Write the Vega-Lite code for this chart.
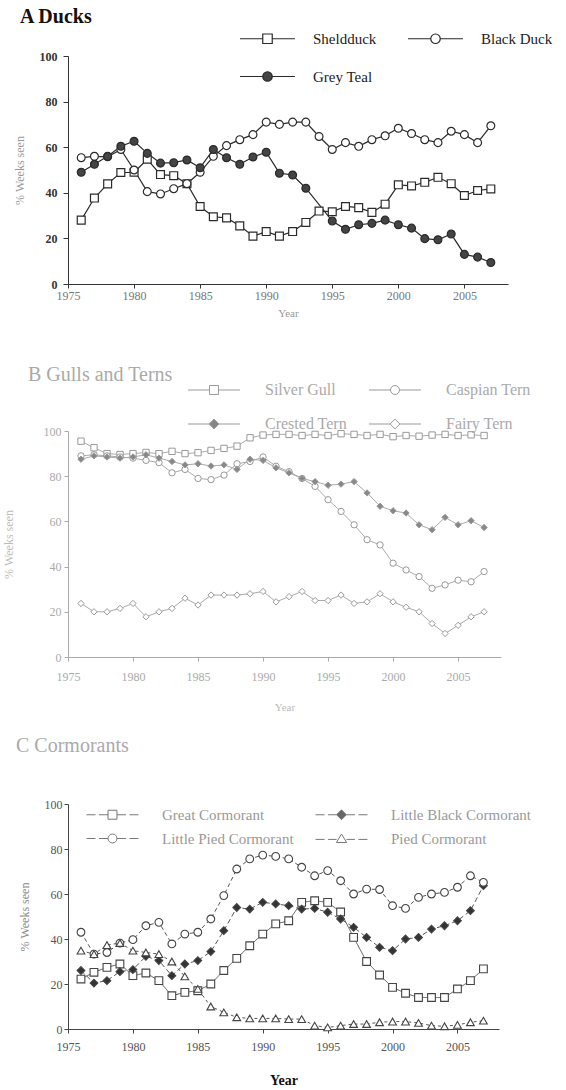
{
  "$schema": "https://vega.github.io/schema/vega-lite/v6.json",
  "padding": {"left": 2, "top": 7, "right": 0, "bottom": 0},
  "background": "white",
  "config": {
    "view": {"stroke": null},
    "font": "Liberation Serif",
    "axis": {"grid": false, "labelFont": "Liberation Serif", "titleFont": "Liberation Serif", "labelFlush": false}
  },
  "datasets": {
    "ducks": [
      {"year":1976,"species":"Sheldduck","value":28},{"year":1977,"species":"Sheldduck","value":37.7},{"year":1978,"species":"Sheldduck","value":43.9},{"year":1979,"species":"Sheldduck","value":48.9},{"year":1980,"species":"Sheldduck","value":49},{"year":1981,"species":"Sheldduck","value":54.7},{"year":1982,"species":"Sheldduck","value":48},{"year":1983,"species":"Sheldduck","value":47.5},{"year":1984,"species":"Sheldduck","value":44},{"year":1985,"species":"Sheldduck","value":34},{"year":1986,"species":"Sheldduck","value":29.5},{"year":1987,"species":"Sheldduck","value":29},{"year":1988,"species":"Sheldduck","value":25.5},{"year":1989,"species":"Sheldduck","value":21},{"year":1990,"species":"Sheldduck","value":23},{"year":1991,"species":"Sheldduck","value":21},{"year":1992,"species":"Sheldduck","value":23},{"year":1993,"species":"Sheldduck","value":27},{"year":1994,"species":"Sheldduck","value":32},{"year":1995,"species":"Sheldduck","value":31.7},{"year":1996,"species":"Sheldduck","value":34},{"year":1997,"species":"Sheldduck","value":33.5},{"year":1998,"species":"Sheldduck","value":31.4},{"year":1999,"species":"Sheldduck","value":35},{"year":2000,"species":"Sheldduck","value":43.5},{"year":2001,"species":"Sheldduck","value":43},{"year":2002,"species":"Sheldduck","value":44.6},{"year":2003,"species":"Sheldduck","value":46.8},{"year":2004,"species":"Sheldduck","value":44},{"year":2005,"species":"Sheldduck","value":38.8},{"year":2006,"species":"Sheldduck","value":41},{"year":2007,"species":"Sheldduck","value":41.7},
      {"year":1976,"species":"Black Duck","value":55.4},{"year":1977,"species":"Black Duck","value":56},{"year":1978,"species":"Black Duck","value":55.8},{"year":1979,"species":"Black Duck","value":59},{"year":1980,"species":"Black Duck","value":50},{"year":1981,"species":"Black Duck","value":40.5},{"year":1982,"species":"Black Duck","value":39.5},{"year":1983,"species":"Black Duck","value":41.8},{"year":1984,"species":"Black Duck","value":44},{"year":1985,"species":"Black Duck","value":49},{"year":1986,"species":"Black Duck","value":56},{"year":1987,"species":"Black Duck","value":60.7},{"year":1988,"species":"Black Duck","value":63.3},{"year":1989,"species":"Black Duck","value":65.5},{"year":1990,"species":"Black Duck","value":71},{"year":1991,"species":"Black Duck","value":70},{"year":1992,"species":"Black Duck","value":71},{"year":1993,"species":"Black Duck","value":71},{"year":1994,"species":"Black Duck","value":64.7},{"year":1995,"species":"Black Duck","value":59},{"year":1996,"species":"Black Duck","value":62},{"year":1997,"species":"Black Duck","value":60.4},{"year":1998,"species":"Black Duck","value":63.3},{"year":1999,"species":"Black Duck","value":65},{"year":2000,"species":"Black Duck","value":68.3},{"year":2001,"species":"Black Duck","value":66},{"year":2002,"species":"Black Duck","value":63.3},{"year":2003,"species":"Black Duck","value":62},{"year":2004,"species":"Black Duck","value":67},{"year":2005,"species":"Black Duck","value":65.5},{"year":2006,"species":"Black Duck","value":62},{"year":2007,"species":"Black Duck","value":69.4},
      {"year":1976,"species":"Grey Teal","value":49},{"year":1977,"species":"Grey Teal","value":52.5},{"year":1978,"species":"Grey Teal","value":56},{"year":1979,"species":"Grey Teal","value":60.4},{"year":1980,"species":"Grey Teal","value":62.6},{"year":1981,"species":"Grey Teal","value":57.3},{"year":1982,"species":"Grey Teal","value":53},{"year":1983,"species":"Grey Teal","value":53.2},{"year":1984,"species":"Grey Teal","value":54.4},{"year":1985,"species":"Grey Teal","value":51},{"year":1986,"species":"Grey Teal","value":59},{"year":1987,"species":"Grey Teal","value":55.4},{"year":1988,"species":"Grey Teal","value":52.5},{"year":1989,"species":"Grey Teal","value":55.7},{"year":1990,"species":"Grey Teal","value":57.8},{"year":1991,"species":"Grey Teal","value":48.6},{"year":1992,"species":"Grey Teal","value":47.8},{"year":1993,"species":"Grey Teal","value":42},{"year":1995,"species":"Grey Teal","value":27.6},{"year":1996,"species":"Grey Teal","value":24},{"year":1997,"species":"Grey Teal","value":26},{"year":1998,"species":"Grey Teal","value":26.6},{"year":1999,"species":"Grey Teal","value":28},{"year":2000,"species":"Grey Teal","value":26},{"year":2001,"species":"Grey Teal","value":24.5},{"year":2002,"species":"Grey Teal","value":19.9},{"year":2003,"species":"Grey Teal","value":19.4},{"year":2004,"species":"Grey Teal","value":21.9},{"year":2005,"species":"Grey Teal","value":13},{"year":2006,"species":"Grey Teal","value":11.8},{"year":2007,"species":"Grey Teal","value":9.4}
    ],
    "gulls": [
      {"year":1976,"species":"Silver Gull","value":95.5},{"year":1977,"species":"Silver Gull","value":92.6},{"year":1978,"species":"Silver Gull","value":90},{"year":1979,"species":"Silver Gull","value":89.6},{"year":1980,"species":"Silver Gull","value":90},{"year":1981,"species":"Silver Gull","value":90.5},{"year":1982,"species":"Silver Gull","value":90},{"year":1983,"species":"Silver Gull","value":91},{"year":1984,"species":"Silver Gull","value":90},{"year":1985,"species":"Silver Gull","value":90.4},{"year":1986,"species":"Silver Gull","value":91.4},{"year":1987,"species":"Silver Gull","value":92.3},{"year":1988,"species":"Silver Gull","value":93.3},{"year":1989,"species":"Silver Gull","value":97},{"year":1990,"species":"Silver Gull","value":98.2},{"year":1991,"species":"Silver Gull","value":98.5},{"year":1992,"species":"Silver Gull","value":98.5},{"year":1993,"species":"Silver Gull","value":98},{"year":1994,"species":"Silver Gull","value":98.5},{"year":1995,"species":"Silver Gull","value":98},{"year":1996,"species":"Silver Gull","value":98.8},{"year":1997,"species":"Silver Gull","value":98.5},{"year":1998,"species":"Silver Gull","value":98},{"year":1999,"species":"Silver Gull","value":98.5},{"year":2000,"species":"Silver Gull","value":97.5},{"year":2001,"species":"Silver Gull","value":98},{"year":2002,"species":"Silver Gull","value":97.7},{"year":2003,"species":"Silver Gull","value":98.2},{"year":2004,"species":"Silver Gull","value":98.5},{"year":2005,"species":"Silver Gull","value":98},{"year":2006,"species":"Silver Gull","value":98.3},{"year":2007,"species":"Silver Gull","value":98},
      {"year":1976,"species":"Caspian Tern","value":89},{"year":1977,"species":"Caspian Tern","value":89.5},{"year":1978,"species":"Caspian Tern","value":89},{"year":1979,"species":"Caspian Tern","value":88.5},{"year":1980,"species":"Caspian Tern","value":88},{"year":1981,"species":"Caspian Tern","value":87},{"year":1982,"species":"Caspian Tern","value":86},{"year":1983,"species":"Caspian Tern","value":81.5},{"year":1984,"species":"Caspian Tern","value":83},{"year":1985,"species":"Caspian Tern","value":79},{"year":1986,"species":"Caspian Tern","value":78.5},{"year":1987,"species":"Caspian Tern","value":80.5},{"year":1988,"species":"Caspian Tern","value":85.5},{"year":1989,"species":"Caspian Tern","value":86.5},{"year":1990,"species":"Caspian Tern","value":88.5},{"year":1991,"species":"Caspian Tern","value":84.4},{"year":1992,"species":"Caspian Tern","value":82},{"year":1993,"species":"Caspian Tern","value":79},{"year":1994,"species":"Caspian Tern","value":75.5},{"year":1995,"species":"Caspian Tern","value":69.6},{"year":1996,"species":"Caspian Tern","value":64.4},{"year":1997,"species":"Caspian Tern","value":58.5},{"year":1998,"species":"Caspian Tern","value":51.9},{"year":1999,"species":"Caspian Tern","value":49.6},{"year":2000,"species":"Caspian Tern","value":41.5},{"year":2001,"species":"Caspian Tern","value":38.5},{"year":2002,"species":"Caspian Tern","value":35.6},{"year":2003,"species":"Caspian Tern","value":30.4},{"year":2004,"species":"Caspian Tern","value":31.9},{"year":2005,"species":"Caspian Tern","value":34},{"year":2006,"species":"Caspian Tern","value":33.3},{"year":2007,"species":"Caspian Tern","value":37.8},
      {"year":1976,"species":"Crested Tern","value":87.5},{"year":1977,"species":"Crested Tern","value":89},{"year":1978,"species":"Crested Tern","value":88.5},{"year":1979,"species":"Crested Tern","value":88},{"year":1980,"species":"Crested Tern","value":88.5},{"year":1981,"species":"Crested Tern","value":89.5},{"year":1982,"species":"Crested Tern","value":88},{"year":1983,"species":"Crested Tern","value":86.5},{"year":1984,"species":"Crested Tern","value":85},{"year":1985,"species":"Crested Tern","value":85.5},{"year":1986,"species":"Crested Tern","value":84.5},{"year":1987,"species":"Crested Tern","value":85},{"year":1988,"species":"Crested Tern","value":83},{"year":1989,"species":"Crested Tern","value":87.5},{"year":1990,"species":"Crested Tern","value":87},{"year":1991,"species":"Crested Tern","value":83.7},{"year":1992,"species":"Crested Tern","value":81.5},{"year":1993,"species":"Crested Tern","value":79},{"year":1994,"species":"Crested Tern","value":77.6},{"year":1995,"species":"Crested Tern","value":76},{"year":1996,"species":"Crested Tern","value":76.5},{"year":1997,"species":"Crested Tern","value":77.6},{"year":1998,"species":"Crested Tern","value":72.6},{"year":1999,"species":"Crested Tern","value":66.7},{"year":2000,"species":"Crested Tern","value":64.7},{"year":2001,"species":"Crested Tern","value":63.7},{"year":2002,"species":"Crested Tern","value":58.5},{"year":2003,"species":"Crested Tern","value":56.3},{"year":2004,"species":"Crested Tern","value":61.8},{"year":2005,"species":"Crested Tern","value":58.5},{"year":2006,"species":"Crested Tern","value":60.3},{"year":2007,"species":"Crested Tern","value":57.3},
      {"year":1976,"species":"Fairy Tern","value":23.7},{"year":1977,"species":"Fairy Tern","value":20},{"year":1978,"species":"Fairy Tern","value":20},{"year":1979,"species":"Fairy Tern","value":21.5},{"year":1980,"species":"Fairy Tern","value":23.7},{"year":1981,"species":"Fairy Tern","value":17.8},{"year":1982,"species":"Fairy Tern","value":20},{"year":1983,"species":"Fairy Tern","value":21.5},{"year":1984,"species":"Fairy Tern","value":26},{"year":1985,"species":"Fairy Tern","value":23},{"year":1986,"species":"Fairy Tern","value":27.4},{"year":1987,"species":"Fairy Tern","value":27.4},{"year":1988,"species":"Fairy Tern","value":27.4},{"year":1989,"species":"Fairy Tern","value":28},{"year":1990,"species":"Fairy Tern","value":29},{"year":1991,"species":"Fairy Tern","value":24.4},{"year":1992,"species":"Fairy Tern","value":26.7},{"year":1993,"species":"Fairy Tern","value":29},{"year":1994,"species":"Fairy Tern","value":25},{"year":1995,"species":"Fairy Tern","value":25},{"year":1996,"species":"Fairy Tern","value":27.4},{"year":1997,"species":"Fairy Tern","value":23.7},{"year":1998,"species":"Fairy Tern","value":24.4},{"year":1999,"species":"Fairy Tern","value":28},{"year":2000,"species":"Fairy Tern","value":24.4},{"year":2001,"species":"Fairy Tern","value":22},{"year":2002,"species":"Fairy Tern","value":20},{"year":2003,"species":"Fairy Tern","value":14.8},{"year":2004,"species":"Fairy Tern","value":10.4},{"year":2005,"species":"Fairy Tern","value":14},{"year":2006,"species":"Fairy Tern","value":17.8},{"year":2007,"species":"Fairy Tern","value":20}
    ],
    "corm": [
      {"year":1976,"species":"Great Cormorant","value":22.2},{"year":1977,"species":"Great Cormorant","value":25.2},{"year":1978,"species":"Great Cormorant","value":27.4},{"year":1979,"species":"Great Cormorant","value":28.9},{"year":1980,"species":"Great Cormorant","value":23.7},{"year":1981,"species":"Great Cormorant","value":24.9},{"year":1982,"species":"Great Cormorant","value":21.5},{"year":1983,"species":"Great Cormorant","value":14.8},{"year":1984,"species":"Great Cormorant","value":16.3},{"year":1985,"species":"Great Cormorant","value":17},{"year":1986,"species":"Great Cormorant","value":20},{"year":1987,"species":"Great Cormorant","value":26},{"year":1988,"species":"Great Cormorant","value":31.4},{"year":1989,"species":"Great Cormorant","value":37},{"year":1990,"species":"Great Cormorant","value":42.2},{"year":1991,"species":"Great Cormorant","value":46.7},{"year":1992,"species":"Great Cormorant","value":48.1},{"year":1993,"species":"Great Cormorant","value":56.3},{"year":1994,"species":"Great Cormorant","value":57},{"year":1995,"species":"Great Cormorant","value":56.3},{"year":1996,"species":"Great Cormorant","value":52},{"year":1997,"species":"Great Cormorant","value":40.7},{"year":1998,"species":"Great Cormorant","value":30},{"year":1999,"species":"Great Cormorant","value":24},{"year":2000,"species":"Great Cormorant","value":18.5},{"year":2001,"species":"Great Cormorant","value":15.9},{"year":2002,"species":"Great Cormorant","value":14},{"year":2003,"species":"Great Cormorant","value":14},{"year":2004,"species":"Great Cormorant","value":14},{"year":2005,"species":"Great Cormorant","value":17.8},{"year":2006,"species":"Great Cormorant","value":21.5},{"year":2007,"species":"Great Cormorant","value":26.7},
      {"year":1976,"species":"Little Black Cormorant","value":26},{"year":1977,"species":"Little Black Cormorant","value":20.4},{"year":1978,"species":"Little Black Cormorant","value":21.5},{"year":1979,"species":"Little Black Cormorant","value":25.5},{"year":1980,"species":"Little Black Cormorant","value":26.4},{"year":1981,"species":"Little Black Cormorant","value":32.3},{"year":1982,"species":"Little Black Cormorant","value":30.4},{"year":1983,"species":"Little Black Cormorant","value":23.7},{"year":1984,"species":"Little Black Cormorant","value":28.9},{"year":1985,"species":"Little Black Cormorant","value":30.4},{"year":1986,"species":"Little Black Cormorant","value":34.4},{"year":1987,"species":"Little Black Cormorant","value":43.7},{"year":1988,"species":"Little Black Cormorant","value":54},{"year":1989,"species":"Little Black Cormorant","value":53.3},{"year":1990,"species":"Little Black Cormorant","value":56.3},{"year":1991,"species":"Little Black Cormorant","value":55.6},{"year":1992,"species":"Little Black Cormorant","value":54.8},{"year":1993,"species":"Little Black Cormorant","value":53.3},{"year":1994,"species":"Little Black Cormorant","value":53.6},{"year":1995,"species":"Little Black Cormorant","value":51.9},{"year":1996,"species":"Little Black Cormorant","value":48.9},{"year":1997,"species":"Little Black Cormorant","value":45.2},{"year":1998,"species":"Little Black Cormorant","value":40.7},{"year":1999,"species":"Little Black Cormorant","value":36.3},{"year":2000,"species":"Little Black Cormorant","value":34.8},{"year":2001,"species":"Little Black Cormorant","value":40},{"year":2002,"species":"Little Black Cormorant","value":40.7},{"year":2003,"species":"Little Black Cormorant","value":44.4},{"year":2004,"species":"Little Black Cormorant","value":45.9},{"year":2005,"species":"Little Black Cormorant","value":48.1},{"year":2006,"species":"Little Black Cormorant","value":52.6},{"year":2007,"species":"Little Black Cormorant","value":63.7},
      {"year":1976,"species":"Little Pied Cormorant","value":43},{"year":1977,"species":"Little Pied Cormorant","value":33.3},{"year":1978,"species":"Little Pied Cormorant","value":34},{"year":1979,"species":"Little Pied Cormorant","value":38.2},{"year":1980,"species":"Little Pied Cormorant","value":39.7},{"year":1981,"species":"Little Pied Cormorant","value":45.9},{"year":1982,"species":"Little Pied Cormorant","value":47.4},{"year":1983,"species":"Little Pied Cormorant","value":37.8},{"year":1984,"species":"Little Pied Cormorant","value":42.2},{"year":1985,"species":"Little Pied Cormorant","value":43},{"year":1986,"species":"Little Pied Cormorant","value":48.9},{"year":1987,"species":"Little Pied Cormorant","value":59.3},{"year":1988,"species":"Little Pied Cormorant","value":71.1},{"year":1989,"species":"Little Pied Cormorant","value":75.6},{"year":1990,"species":"Little Pied Cormorant","value":77.3},{"year":1991,"species":"Little Pied Cormorant","value":76.7},{"year":1992,"species":"Little Pied Cormorant","value":75.6},{"year":1993,"species":"Little Pied Cormorant","value":71.9},{"year":1994,"species":"Little Pied Cormorant","value":68.1},{"year":1995,"species":"Little Pied Cormorant","value":70.4},{"year":1996,"species":"Little Pied Cormorant","value":65.9},{"year":1997,"species":"Little Pied Cormorant","value":60},{"year":1998,"species":"Little Pied Cormorant","value":62.2},{"year":1999,"species":"Little Pied Cormorant","value":62},{"year":2000,"species":"Little Pied Cormorant","value":54.8},{"year":2001,"species":"Little Pied Cormorant","value":53.6},{"year":2002,"species":"Little Pied Cormorant","value":58.5},{"year":2003,"species":"Little Pied Cormorant","value":60},{"year":2004,"species":"Little Pied Cormorant","value":60.7},{"year":2005,"species":"Little Pied Cormorant","value":63},{"year":2006,"species":"Little Pied Cormorant","value":68.1},{"year":2007,"species":"Little Pied Cormorant","value":65.2},
      {"year":1976,"species":"Pied Cormorant","value":34.8},{"year":1977,"species":"Pied Cormorant","value":33.3},{"year":1978,"species":"Pied Cormorant","value":37.3},{"year":1979,"species":"Pied Cormorant","value":38.2},{"year":1980,"species":"Pied Cormorant","value":34.8},{"year":1981,"species":"Pied Cormorant","value":34},{"year":1982,"species":"Pied Cormorant","value":33.3},{"year":1983,"species":"Pied Cormorant","value":30},{"year":1984,"species":"Pied Cormorant","value":23.4},{"year":1985,"species":"Pied Cormorant","value":17.8},{"year":1986,"species":"Pied Cormorant","value":10},{"year":1987,"species":"Pied Cormorant","value":7.4},{"year":1988,"species":"Pied Cormorant","value":5.2},{"year":1989,"species":"Pied Cormorant","value":4.7},{"year":1990,"species":"Pied Cormorant","value":4.7},{"year":1991,"species":"Pied Cormorant","value":4.7},{"year":1992,"species":"Pied Cormorant","value":4.4},{"year":1993,"species":"Pied Cormorant","value":4.4},{"year":1994,"species":"Pied Cormorant","value":1.5},{"year":1995,"species":"Pied Cormorant","value":0.7},{"year":1996,"species":"Pied Cormorant","value":1.5},{"year":1997,"species":"Pied Cormorant","value":2.2},{"year":1998,"species":"Pied Cormorant","value":2.2},{"year":1999,"species":"Pied Cormorant","value":3},{"year":2000,"species":"Pied Cormorant","value":3.3},{"year":2001,"species":"Pied Cormorant","value":3.3},{"year":2002,"species":"Pied Cormorant","value":2.7},{"year":2003,"species":"Pied Cormorant","value":1.5},{"year":2004,"species":"Pied Cormorant","value":1.2},{"year":2005,"species":"Pied Cormorant","value":1.8},{"year":2006,"species":"Pied Cormorant","value":3},{"year":2007,"species":"Pied Cormorant","value":3.7}
    ]
  },
  "bounds": "flush",
  "spacing": 147,
  "vconcat": [
    {
      "width": 440, "height": 228,
      "data": {"name": "ducks"},
      "title": {"text": "A  Ducks", "anchor": "start", "frame": "group", "dx": -48, "offset": -16, "baseline": "bottom", "font": "Liberation Serif", "fontSize": 20, "fontWeight": "bold", "color": "#111"},
      "encoding": {
        "x": {"field": "year", "type": "quantitative", "scale": {"domain": [1975, 2008.3], "nice": false, "zero": false},
              "axis": {"values": [1975,1980,1985,1990,1995,2000,2005], "format": "d", "title": "Year", "titleFontSize": 11, "titleFontWeight": "normal", "titleColor": "#999", "titlePadding": 6, "labelFontSize": 12, "labelColor": "#777", "labelPadding": 2, "tickSize": 4, "tickColor": "#333", "domainColor": "#333"}},
        "y": {"field": "value", "type": "quantitative", "scale": {"domain": [0, 100], "nice": false},
              "axis": {"values": [0,20,40,60,80,100], "title": "% Weeks seen", "titleFontSize": 12, "titleFontWeight": "normal", "titleColor": "#999", "titlePadding": 13, "labelFontSize": 12, "labelFontWeight": "bold", "labelColor": "#333", "labelPadding": 6, "tickSize": 5, "tickColor": "#333", "domainColor": "#333"}}
      },
      "layer": [
        {"mark": {"type": "line", "stroke": "#2a2a2a", "strokeWidth": 1.2}, "encoding": {"detail": {"field": "species"}}},
        {"mark": {"type": "point", "size": 62, "stroke": "#2a2a2a", "strokeWidth": 1.2, "opacity": 1},
         "encoding": {
           "shape": {"field": "species", "scale": {"domain": ["Sheldduck","Black Duck","Grey Teal"], "range": ["square","circle","circle"]}, "legend": null},
           "fill": {"field": "species", "scale": {"domain": ["Sheldduck","Black Duck","Grey Teal"], "range": ["white","white","#444"]}, "legend": null}}},
        {"mark": {"type": "point", "opacity": 0, "stroke": "#2a2a2a", "strokeWidth": 1.2},
         "encoding": {
           "shape": {"field": "species", "scale": {"domain": ["Sheldduck","Black Duck","Grey Teal"], "range": ["M-5.8,0H-1M1,0H5.8M-1,-1H1V1H-1Z","M-5.8,0H-1M1,0H5.8M1,0A1,1,0,1,1,-1,0A1,1,0,1,1,1,0Z","M-5.8,0H-1M1,0H5.8M1,0A1,1,0,1,1,-1,0A1,1,0,1,1,1,0Z"]},
                     "legend": {"title": null, "orient": "none", "direction": "horizontal", "legendX": 192, "legendY": -25, "columns": 2, "columnPadding": 28, "rowPadding": 22, "labelOffset": 38, "symbolSize": 90, "symbolStrokeWidth": 1.2, "symbolOpacity": 1, "padding": 0, "labelFont": "Liberation Serif", "labelFontSize": 15, "labelColor": "#222", "labelLimit": 300}},
           "fill": {"field": "species", "scale": {"domain": ["Sheldduck","Black Duck","Grey Teal"], "range": ["white","white","#444"]},
                     "legend": {"title": null, "orient": "none", "direction": "horizontal", "legendX": 192, "legendY": -25, "columns": 2, "columnPadding": 28, "rowPadding": 22, "labelOffset": 38, "symbolSize": 90, "symbolStrokeWidth": 1.2, "symbolOpacity": 1, "padding": 0, "labelFont": "Liberation Serif", "labelFontSize": 15, "labelColor": "#222", "labelLimit": 300}}}}
      ],
      "resolve": {"scale": {"shape": "independent", "fill": "independent"}, "legend": {"shape": "independent", "fill": "independent"}}
    },
    {
      "width": 433, "height": 226,
      "data": {"name": "gulls"},
      "title": {"text": "B  Gulls and Terns", "anchor": "start", "frame": "group", "dx": -40, "offset": -13, "baseline": "middle", "font": "Liberation Serif", "fontSize": 20, "fontWeight": "normal", "color": "#aaa"},
      "encoding": {
        "x": {"field": "year", "type": "quantitative", "scale": {"domain": [1975, 2008.3], "nice": false, "zero": false},
              "axis": {"values": [1975,1980,1985,1990,1995,2000,2005], "format": "d", "title": "Year", "titleFontSize": 11, "titleFontWeight": "normal", "titleColor": "#bbb", "titlePadding": 19, "labelFontSize": 12, "labelColor": "#aaa", "labelPadding": 10, "tickSize": 4, "tickColor": "#aaa", "domainColor": "#aaa"}},
        "y": {"field": "value", "type": "quantitative", "scale": {"domain": [0, 100], "nice": false},
              "axis": {"values": [0,20,40,60,80,100], "title": "% Weeks seen", "titleFontSize": 12, "titleFontWeight": "normal", "titleColor": "#bbb", "titlePadding": 28, "labelFontSize": 12, "labelColor": "#aaa", "labelPadding": 3, "tickSize": 4, "tickColor": "#aaa", "domainColor": "#aaa"}}
      },
      "layer": [
        {"mark": {"type": "line", "stroke": "#aaa", "strokeWidth": 1}, "encoding": {"detail": {"field": "species"}}},
        {"mark": {"type": "point", "size": 40, "stroke": "#999", "strokeWidth": 1, "opacity": 1},
         "encoding": {
           "shape": {"field": "species", "scale": {"domain": ["Silver Gull","Caspian Tern","Crested Tern","Fairy Tern"], "range": ["square","circle","diamond","diamond"]}, "legend": null},
           "fill": {"field": "species", "scale": {"domain": ["Silver Gull","Caspian Tern","Crested Tern","Fairy Tern"], "range": ["white","white","#888","white"]}, "legend": null}}},
        {"mark": {"type": "point", "opacity": 0, "stroke": "#999", "strokeWidth": 1},
         "encoding": {
           "shape": {"field": "species", "scale": {"domain": ["Silver Gull","Caspian Tern","Crested Tern","Fairy Tern"], "range": ["M-5.8,0H-1M1,0H5.8M-1,-1H1V1H-1Z","M-5.8,0H-1M1,0H5.8M1,0A1,1,0,1,1,-1,0A1,1,0,1,1,1,0Z","M-5.8,0H-1.1M1.1,0H5.8M0,-1.1L1.1,0L0,1.1L-1.1,0Z","M-5.8,0H-1.1M1.1,0H5.8M0,-1.1L1.1,0L0,1.1L-1.1,0Z"]},
                     "legend": {"title": null, "orient": "none", "direction": "horizontal", "legendX": 138, "legendY": -49, "columns": 2, "columnPadding": 20, "rowPadding": 18, "labelOffset": 43, "symbolSize": 80, "symbolStrokeWidth": 1, "symbolOpacity": 1, "padding": 0, "labelFont": "Liberation Serif", "labelFontSize": 16, "labelColor": "#aaa", "labelLimit": 300}},
           "fill": {"field": "species", "scale": {"domain": ["Silver Gull","Caspian Tern","Crested Tern","Fairy Tern"], "range": ["white","white","#888","white"]},
                     "legend": {"title": null, "orient": "none", "direction": "horizontal", "legendX": 138, "legendY": -49, "columns": 2, "columnPadding": 20, "rowPadding": 18, "labelOffset": 43, "symbolSize": 80, "symbolStrokeWidth": 1, "symbolOpacity": 1, "padding": 0, "labelFont": "Liberation Serif", "labelFontSize": 16, "labelColor": "#aaa", "labelLimit": 300}}}}
      ],
      "resolve": {"scale": {"shape": "independent", "fill": "independent"}, "legend": {"shape": "independent", "fill": "independent"}}
    },
    {
      "width": 431, "height": 225,
      "data": {"name": "corm"},
      "title": {"text": "C  Cormorants", "anchor": "start", "frame": "group", "dx": -52, "offset": 22, "baseline": "bottom", "font": "Liberation Serif", "fontSize": 20, "fontWeight": "normal", "color": "#aaa"},
      "encoding": {
        "x": {"field": "year", "type": "quantitative", "scale": {"domain": [1975, 2008.2], "nice": false, "zero": false},
              "axis": {"values": [1975,1980,1985,1990,1995,2000,2005], "format": "d", "title": "Year", "titleFontSize": 14, "titleFontWeight": "bold", "titleColor": "#111", "titlePadding": 21, "labelFontSize": 12, "labelColor": "#555", "labelPadding": 8, "tickSize": 4, "tickColor": "#444", "domainColor": "#444"}},
        "y": {"field": "value", "type": "quantitative", "scale": {"domain": [0, 100], "nice": false},
              "axis": {"values": [0,20,40,60,80,100], "title": "% Weeks seen", "titleFontSize": 12, "titleFontWeight": "normal", "titleColor": "#888", "titlePadding": 13, "labelFontSize": 12, "labelColor": "#555", "labelPadding": 2, "tickSize": 4, "tickColor": "#444", "domainColor": "#444"}}
      },
      "layer": [
        {"mark": {"type": "line", "stroke": "#555", "strokeWidth": 1},
         "encoding": {"detail": {"field": "species"},
           "strokeDash": {"field": "species", "scale": {"domain": ["Great Cormorant","Little Black Cormorant","Little Pied Cormorant","Pied Cormorant"], "range": [[1,0],[5,3],[4,3],[3,3]]}, "legend": null}}},
        {"mark": {"type": "point", "size": 60, "stroke": "#444", "strokeWidth": 1.1, "opacity": 1},
         "encoding": {
           "shape": {"field": "species", "scale": {"domain": ["Great Cormorant","Little Black Cormorant","Little Pied Cormorant","Pied Cormorant"], "range": ["square","diamond","circle","triangle-up"]}, "legend": null},
           "fill": {"field": "species", "scale": {"domain": ["Great Cormorant","Little Black Cormorant","Little Pied Cormorant","Pied Cormorant"], "range": ["white","#333","white","white"]}, "legend": null}}},
        {"mark": {"type": "point", "opacity": 0, "stroke": "#777", "strokeWidth": 1},
         "encoding": {
           "shape": {"field": "species", "scale": {"domain": ["Great Cormorant","Little Black Cormorant","Little Pied Cormorant","Pied Cormorant"], "range": ["M-5.8,0H-3.8M-3,0H-1M1,0H3M3.8,0H5.8M-1,-1H1V1H-1Z","M-5.8,0H-3.8M-3,0H-1.1M1.1,0H3M3.8,0H5.8M0,-1.1L1.1,0L0,1.1L-1.1,0Z","M-5.8,0H-3.8M-3,0H-1M1,0H3M3.8,0H5.8M1,0A1,1,0,1,1,-1,0A1,1,0,1,1,1,0Z","M-5.8,0.2H-3.8M-3,0.2H-1.1M1.1,0.2H3M3.8,0.2H5.8M0,-1L1.15,0.9H-1.15Z"]},
                     "legend": {"title": null, "orient": "none", "direction": "horizontal", "legendX": 37, "legendY": 3, "columns": 2, "columnPadding": 19, "rowPadding": 8, "labelOffset": 42, "symbolSize": 80, "symbolStrokeWidth": 1, "symbolOpacity": 1, "padding": 0, "labelFont": "Liberation Serif", "labelFontSize": 15, "labelColor": "#999", "labelLimit": 300}},
           "fill": {"field": "species", "scale": {"domain": ["Great Cormorant","Little Black Cormorant","Little Pied Cormorant","Pied Cormorant"], "range": ["white","#666","white","white"]},
                     "legend": {"title": null, "orient": "none", "direction": "horizontal", "legendX": 37, "legendY": 3, "columns": 2, "columnPadding": 19, "rowPadding": 8, "labelOffset": 42, "symbolSize": 80, "symbolStrokeWidth": 1, "symbolOpacity": 1, "padding": 0, "labelFont": "Liberation Serif", "labelFontSize": 15, "labelColor": "#999", "labelLimit": 300}}}}
      ],
      "resolve": {"scale": {"shape": "independent", "fill": "independent"}, "legend": {"shape": "independent", "fill": "independent"}}
    }
  ]
}
